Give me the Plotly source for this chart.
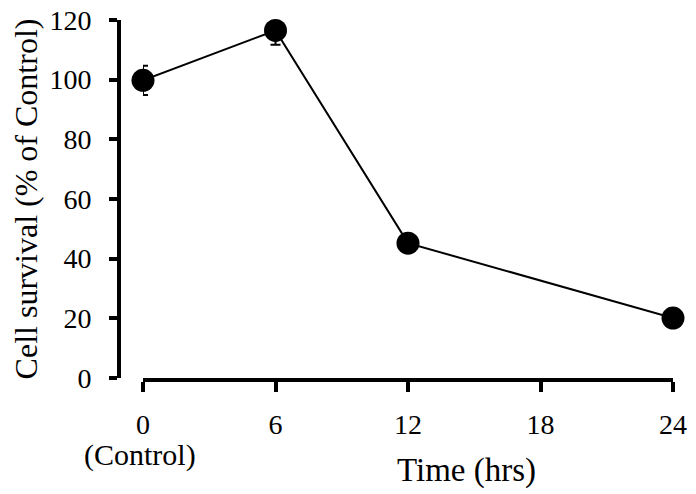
import plotly.graph_objects as go

time_hrs = [0, 6, 12, 24]
survival = [99.8, 116.5, 45.2, 20.1]
survival_err = [4.9, 4.8, 2.0, 1.0]
x_tick_vals = [0, 6, 12, 18, 24]
x_tick_text = ["0", "6", "12", "18", "24"]
y_tick_vals = [0, 20, 40, 60, 80, 100, 120]

FONT = "Liberation Serif, Times New Roman, serif"

fig = go.Figure()
fig.add_trace(go.Scatter(
    x=time_hrs, y=survival,
    mode="lines+markers",
    line=dict(color="black", width=2),
    marker=dict(color="black", size=23),
    error_y=dict(type="data", array=survival_err, color="black", thickness=2, width=5),
    cliponaxis=False,
    showlegend=False,
))

# page body has an 8px default margin, so figure coordinates = target - 8
W, H = 688, 486
L, R, T, B = 92, 23, 12, 116
pw = W - L - R
ph = H - T - B
x0_px = 135

fig.update_layout(
    width=W, height=H,
    margin=dict(l=L, r=R, t=T, b=B, autoexpand=False),
    plot_bgcolor="white", paper_bgcolor="white",
    font=dict(family=FONT, size=28, color="black"),
    xaxis=dict(
        domain=[(x0_px - L) / pw, 1],
        range=[0, 24],
        tickvals=x_tick_vals, ticktext=x_tick_text,
        showline=True, linecolor="black", linewidth=4,
        ticks="outside", ticklen=10, tickwidth=4, tickcolor="black",
        showgrid=False, zeroline=False, automargin=False,
        ticklabelstandoff=8, ticklabeloverflow="allow",
        tickfont=dict(family=FONT, size=28, color="black"),
    ),
    yaxis=dict(
        anchor="free", position=(111 - L) / pw,
        range=[0, 120],
        tickvals=y_tick_vals,
        showline=True, linecolor="black", linewidth=4,
        ticks="outside", ticklen=8, tickwidth=4, tickcolor="black",
        showgrid=False, zeroline=False, automargin=False,
        ticklabelstandoff=12, ticklabeloverflow="allow",
        tickfont=dict(family=FONT, size=28, color="black"),
        title=dict(text="Cell survival (% of Control)", font=dict(family=FONT, size=32, color="black"), standoff=8),
    ),
    annotations=[
        dict(
            text="Time (hrs)", xref="paper", yref="paper",
            x=(458 - L) / pw, y=-(462 - (H - B)) / ph,
            xanchor="center", yanchor="middle", showarrow=False,
            font=dict(family=FONT, size=33, color="black"),
        ),
        dict(
            text="(Control)", xref="paper", yref="paper",
            x=(132 - L) / pw, y=-(447 - (H - B)) / ph,
            xanchor="center", yanchor="middle", showarrow=False,
            font=dict(family=FONT, size=30, color="black"),
        ),
    ],
)

fig.write_html("out.html")
